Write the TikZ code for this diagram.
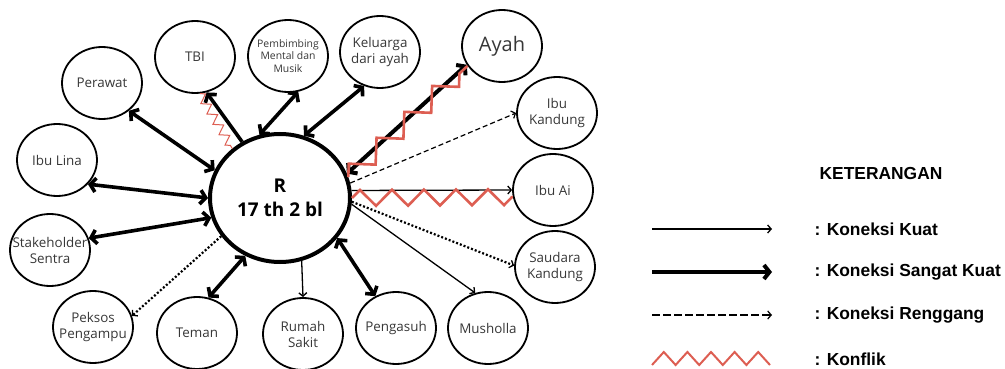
\documentclass[tikz,border=0pt]{standalone}
\usepackage{fontspec}
\setmainfont{Open Sans}
\newfontfamily\legendfont{Liberation Sans}
\usetikzlibrary{arrows.meta,positioning,calc,shapes.geometric,decorations.pathmorphing}
\definecolor{konflikred}{RGB}{221,94,82}
\definecolor{labelgray}{RGB}{55,55,55}

\begin{document}
\begin{tikzpicture}[x=1pt, y=-1pt,
    person/.style={draw, line width=1.8pt, ellipse, minimum width=80pt, minimum height=72pt, inner sep=-10pt, align=center, text=labelgray, font=\fontsize{13.4}{16}\selectfont},
    kuat/.style={line width=1.3pt, -{Straight Barb[length=3.5pt,width=8pt]}},
    sangatkuat/.style={line width=3.6pt, -{Straight Barb[length=5.5pt,width=14pt]}},
    duakuat/.style={line width=3.6pt, {Straight Barb[length=5.5pt,width=14pt]}-{Straight Barb[length=5.5pt,width=14pt]}},
    renggang/.style={line width=1.2pt, dash pattern=on 5pt off 3pt, -{Straight Barb[length=3.5pt,width=8pt]}},
    titik/.style={line width=2.2pt, dash pattern=on 2pt off 2pt, -{Straight Barb[length=3.5pt,width=8pt,line width=1.3pt]}},
    konflik/.style={konflikred, line width=2.6pt, decorate},
    legendtext/.style={anchor=west, font=\legendfont\bfseries\fontsize{17.4}{20}\selectfont}
  ]
  \useasboundingbox (0,0) rectangle (1005,369);

  \node[person, line width=4pt, minimum width=140pt, minimum height=128pt, text=black, font=\bfseries\fontsize{19}{24.5}\selectfont] (r) at (280,198) {R\\17 th 2 bl};

  \node[person] (perawat) at (102,83) {Perawat};
  \node[person] (tbi) at (195,57) {TBI};
  \node[person, font=\fontsize{10.4}{12.5}\selectfont] (pembimbing) at (288,56) {Pembimbing\\Mental dan\\Musik};
  \node[person] (keluarga) at (380,52) {Keluarga\\dari ayah};
  \node[person, font=\fontsize{20}{24}\selectfont] (ayah) at (502,46) {Ayah};
  \node[person] (ibukandung) at (557,113) {Ibu\\Kandung};
  \node[person] (ibuai) at (553,190) {Ibu Ai};
  \node[person] (saudara) at (555,267) {Saudara\\Kandung};
  \node[person] (musholla) at (488,328) {Musholla};
  \node[person] (pengasuh) at (396,328) {Pengasuh};
  \node[person] (rumahsakit) at (303,334) {Rumah\\Sakit};
  \node[person] (teman) at (197,333) {Teman};
  \node[person] (peksos) at (93,327) {Peksos\\Pengampu};
  \node[person] (stakeholder) at (50,250) {Stakeholder\\Sentra};
  \node[person] (ibulina) at (57,160) {Ibu Lina};

  \draw[duakuat] (r.157) -- (perawat.-46);
  \draw[sangatkuat] (r.124) -- (tbi.-72);
  \draw[konflik, line width=1pt, decoration={zigzag, segment length=12pt, amplitude=4.5pt}] (tbi.-82) -- (r.134);
  \draw[duakuat] (r.108) -- (pembimbing.-74);
  \draw[duakuat] (r.69) -- (keluarga.-115);
  \draw[duakuat, line width=4pt] (r.20) -- (ayah.-152);
  \draw[konflik, decoration={zigzag, segment length=38pt, amplitude=9.5pt}] (r.17) -- (ayah.-150);
  \draw[renggang] (r.12) -- (ibukandung.180);
  \draw[kuat] (r.6) -- (ibuai.180);
  \draw[konflik, decoration={zigzag, segment length=32pt, amplitude=8pt}] (r.0) -- (ibuai.-170);
  \draw[titik] (r.-3) -- (saudara.178);
  \draw[kuat] (r.-5) -- (musholla.110);
  \draw[duakuat] (r.-35) -- (pengasuh.123);
  \draw[kuat] (r.-71) -- (rumahsakit.90);
  \draw[duakuat] (r.-121) -- (teman.72);
  \draw[titik] (r.-147) -- (peksos.16);
  \draw[duakuat] (r.-164) -- (stakeholder.17);
  \draw[duakuat] (r.180) -- (ibulina.-38);

  \node[font=\legendfont\bfseries\fontsize{17.4}{20}\selectfont] (keterangan) at (881,174) {KETERANGAN};
  \coordinate (k1a) at (652,229); \coordinate (k1b) at (772,229);
  \coordinate (k2a) at (652,272); \coordinate (k2b) at (772,272);
  \coordinate (k3a) at (652,315); \coordinate (k3b) at (772,315);
  \coordinate (k4a) at (652,365);
  \draw[kuat] (k1a) -- (k1b);
  \draw[line width=4pt, -{Straight Barb[length=5.5pt,width=14pt]}] (k2a) -- (k2b);
  \draw[renggang, dash pattern=on 8pt off 3pt] (k3a) -- (k3b);
  \draw[konflikred, line width=2pt] (k4a) \foreach \i in {1,...,5} { -- ++(11.8,-13) -- ++(11.8,13) };
  \node[legendtext] (lkuat) at (811,229) {: Koneksi Kuat};
  \node[legendtext] (lsangat) at (811,272) {: Koneksi Sangat Kuat};
  \node[legendtext] (lrenggang) at (811,315) {: Koneksi Renggang};
  \node[legendtext] (lkonflik) at (811,359) {: Konflik};
\end{tikzpicture}
\end{document}
